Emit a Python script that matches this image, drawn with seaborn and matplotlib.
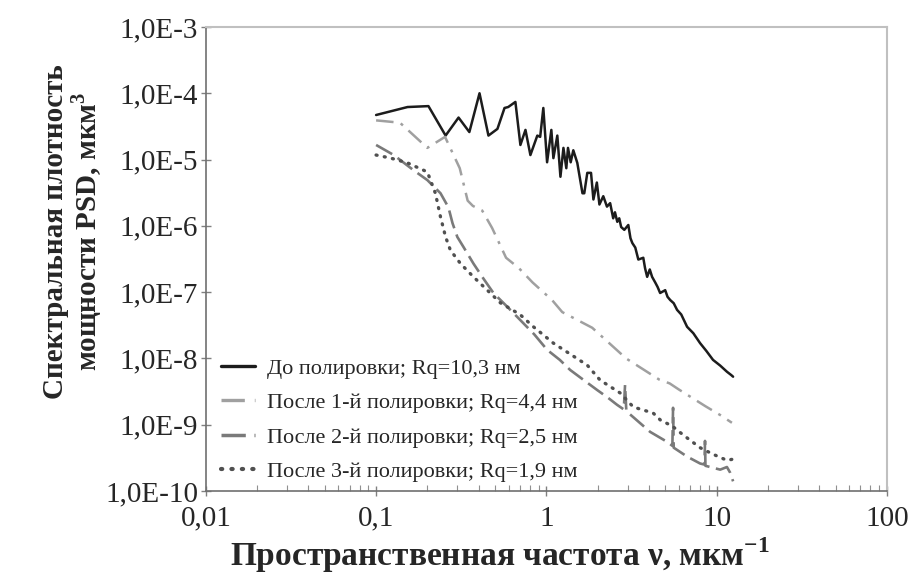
import matplotlib
matplotlib.use("Agg")
import matplotlib.pyplot as plt
import seaborn as sns
import pandas as pd

# ---------------- data ----------------
x_before = [0.1, 0.153, 0.203, 0.256, 0.305, 0.353, 0.405, 0.457, 0.516, 0.568, 0.597, 0.658,
            0.704, 0.754, 0.806, 0.885, 0.92, 0.96, 1.01, 1.07, 1.10, 1.16, 1.21, 1.26, 1.31,
            1.34, 1.39, 1.44, 1.52, 1.63, 1.67, 1.74, 1.83, 1.89, 1.98, 2.05, 2.16, 2.27, 2.37,
            2.47, 2.53, 2.61, 2.68, 2.75, 2.87, 3.03, 3.12, 3.20, 3.33, 3.47, 3.71, 3.80, 3.91, 4.05, 4.18, 4.36, 4.50, 4.66,
            4.99, 5.15, 5.34, 5.6, 5.86, 6.2, 6.71, 7.3, 8.0, 8.7, 9.53, 10.5, 11.5, 12.2, 12.5]
y_before = [4.7e-5, 6.2e-5, 6.4e-5, 2.3e-5, 4.3e-5, 2.6e-5, 1.0e-4, 2.3e-5, 2.9e-5, 6.0e-5, 6.2e-5, 7.4e-5,
            1.66e-5, 2.8e-5, 1.17e-5, 2.3e-5, 2.2e-5, 6.0e-5, 9.1e-6, 2.8e-5, 1.05e-5, 2.3e-5, 5.5e-6, 1.5e-5, 7.4e-6,
            1.5e-5, 9.1e-6, 1.38e-5, 8.9e-6, 3.1e-6, 3.1e-6, 6.3e-6, 6.3e-6, 2.5e-6, 4.5e-6, 2.1e-6, 2.8e-6, 1.95e-6, 2.2e-6,
            1.3e-6, 1.6e-6, 1.15e-6, 1.3e-6, 9.6e-7, 8.7e-7, 1.03e-6, 6.5e-7, 5.5e-7, 4.7e-7, 3.1e-7, 3.3e-7, 2.3e-7, 1.7e-7, 2.2e-7, 1.7e-7, 1.4e-7, 1.2e-7, 9.7e-8,
            1.07e-7, 8.5e-8, 7.6e-8, 6.8e-8, 5.4e-8, 4.6e-8, 3.0e-8, 2.4e-8, 1.7e-8, 1.3e-8, 9.5e-9, 7.8e-9, 6.3e-9, 5.6e-9, 5.3e-9]

x_pol1 = [0.1, 0.138, 0.20, 0.254, 0.31, 0.345, 0.37, 0.42, 0.48, 0.58, 0.69, 0.83, 1.08, 1.24,
          1.86, 2.94, 4.6, 5.3, 6.0, 8.6, 10.5, 12.3]
y_pol1 = [3.9e-5, 3.6e-5, 1.5e-5, 2.2e-5, 7.4e-6, 2.4e-6, 2.0e-6, 1.7e-6, 9.3e-7, 3.3e-7, 2.3e-7, 1.4e-7, 7.6e-8, 5.0e-8,
          2.9e-8, 1.0e-8, 4.8e-9, 4.2e-9, 3.4e-9, 1.9e-9, 1.4e-9, 1.07e-9]

x_pol2 = [0.1, 0.127, 0.166, 0.20, 0.239, 0.266, 0.281, 0.30, 0.326, 0.373, 0.427, 0.489, 0.59, 0.676,
          0.85, 1.01, 1.2, 1.38, 1.74, 2.0, 2.28, 2.6, 2.85, 2.9, 2.95, 3.24, 4.07, 5.13, 5.5, 5.55,
          5.6, 6.72, 8.0, 8.5, 8.55, 8.6, 10.5, 11.5, 12.0, 12.5]
y_pol2 = [1.66e-5, 1.17e-5, 6.9e-6, 4.9e-6, 3.1e-6, 1.9e-6, 1.1e-6, 6.8e-7, 4.8e-7, 2.7e-7, 1.6e-7, 9.7e-8, 6.0e-8, 4.2e-8,
          2.3e-8, 1.35e-8, 9.5e-9, 6.7e-9, 4.3e-9, 3.3e-9, 2.6e-9, 2.0e-9, 1.7e-9, 4.0e-9, 1.6e-9, 1.3e-9, 7.8e-10, 5.5e-10, 4.8e-10, 1.8e-9,
          4.5e-10, 3.3e-10, 2.6e-10, 2.5e-10, 5.7e-10, 2.4e-10, 2.1e-10, 2.3e-10, 1.9e-10, 1.4e-10]

x_pol3 = [0.1, 0.122, 0.153, 0.20, 0.223, 0.239, 0.256, 0.273, 0.313, 0.373, 0.45, 0.537, 0.70, 0.84,
          1.10, 1.74, 2.07, 2.72, 3.24, 4.24, 4.67, 5.5, 6.37, 8.0, 9.5, 11.5, 12.3]
y_pol3 = [1.17e-5, 1.05e-5, 8.9e-6, 6.5e-6, 3.1e-6, 1.36e-6, 6.8e-7, 4.3e-7, 2.7e-7, 1.7e-7, 1.07e-7, 6.9e-8, 4.6e-8, 3.0e-8,
          1.7e-8, 7.9e-9, 4.7e-9, 3.0e-9, 1.85e-9, 1.5e-9, 1.18e-9, 9.5e-10, 7.0e-10, 4.5e-10, 3.6e-10, 2.9e-10, 3.0e-10]

series_labels = ["До полировки; Rq=10,3 нм",
                 "После 1-й полировки; Rq=4,4 нм",
                 "После 2-й полировки; Rq=2,5 нм",
                 "После 3-й полировки; Rq=1,9 нм"]

x_ticks = [0.01, 0.1, 1, 10, 100]
x_tick_labels = ["0,01", "0,1", "1", "10", "100"]
y_ticks = [1e-10, 1e-9, 1e-8, 1e-7, 1e-6, 1e-5, 1e-4, 1e-3]
y_tick_labels = ["1,0E-10", "1,0E-9", "1,0E-8", "1,0E-7", "1,0E-6", "1,0E-5", "1,0E-4", "1,0E-3"]

x_label = "Пространственная частота ν, мкм$^{\\mathbf{-1}}$"
y_label = "Спектральная плотность\nмощности PSD, мкм$^{\\mathbf{3}}$"

# ---------------- style ----------------
sns.set_style("white")
plt.rcParams["font.family"] = ["Liberation Serif", "DejaVu Serif"]
plt.rcParams["mathtext.fontset"] = "custom"
plt.rcParams["mathtext.rm"] = "Liberation Serif"
plt.rcParams["mathtext.bf"] = "Liberation Serif:bold"

fig = plt.figure(figsize=(9.19, 5.74), dpi=100)
ax = fig.add_axes([0.224, 0.1446, 0.741, 0.8084])

styles = [
    dict(color="#1c1c1c", lw=1.8, ls="-"),
    dict(color="#a0a0a0", lw=1.8, ls=(0, (7, 3, 1.2, 3))),
    dict(color="#7a7a7a", lw=1.9, ls=(0, (7, 2.5))),
    dict(color="#505050", lw=2.4, ls=(0, (0.3, 2.2))),
]
data = [(x_before, y_before), (x_pol1, y_pol1), (x_pol2, y_pol2), (x_pol3, y_pol3)]

for i, ((xs, ys), lab, st) in enumerate(zip(data, series_labels, styles)):
    df = pd.DataFrame({"x": xs, "y": ys})
    sns.lineplot(data=df, x="x", y="y", ax=ax, estimator=None, sort=False,
                 color=st["color"], linewidth=st["lw"], label=lab)
    line = ax.get_lines()[-1]
    line.set_linestyle(st["ls"])
    if i == 3:
        line.set_dash_capstyle("round")

ax.set_xscale("log")
ax.set_yscale("log")
ax.set_xlim(0.01, 100)
ax.set_ylim(1e-10, 1e-3)
ax.set_xticks(x_ticks)
ax.set_xticklabels(x_tick_labels)
ax.set_yticks(y_ticks)
ax.set_yticklabels(y_tick_labels)

ax.tick_params(axis="both", which="major", direction="inout", length=7, width=1,
               color="#808080", labelsize=21, pad=2)
ax.tick_params(axis="x", which="major", pad=7)
ax.tick_params(axis="both", which="minor", direction="in", length=4, width=0.8,
               color="#909090")
ax.tick_params(axis="x", which="both", bottom=True)
ax.tick_params(axis="y", which="both", left=True)

for side in ["left", "bottom"]:
    ax.spines[side].set_color("#707070")
    ax.spines[side].set_linewidth(1.2)
for side in ["top", "right"]:
    ax.spines[side].set_color("#c0c0c0")
    ax.spines[side].set_linewidth(1.5)

ax.set_xlabel(x_label, fontsize=24, fontweight="bold")
ax.xaxis.set_label_coords(0.432, -0.095)
ax.set_ylabel(y_label, fontsize=21, fontweight="bold", linespacing=1.0)
ax.yaxis.set_label_coords(-0.15, 0.56)

leg = ax.legend(loc="lower left", bbox_to_anchor=(0.0, -0.014), frameon=False, fontsize=16,
                handlelength=1.5, handletextpad=0.55, labelspacing=0.62, borderaxespad=0.3)
for h, st in zip(leg.get_lines(), styles):
    h.set_linestyle(st["ls"])
    h.set_linewidth(st["lw"] + 0.6)

fig.savefig("out.png", dpi=100)
